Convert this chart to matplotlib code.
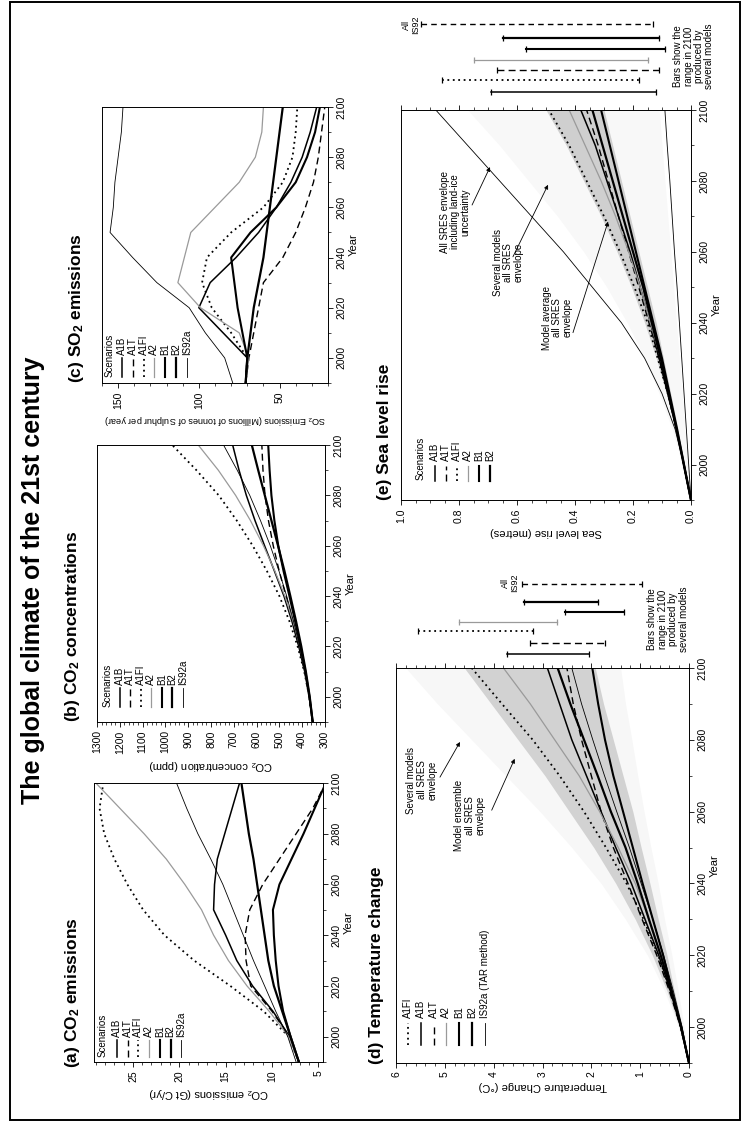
import matplotlib
matplotlib.use("Agg")
import matplotlib.pyplot as plt
from matplotlib.patches import Rectangle
from matplotlib.ticker import MultipleLocator, FormatStrFormatter

plt.rcParams["font.family"] = ["Liberation Sans", "DejaVu Sans"]
plt.rcParams["mathtext.fontset"] = "custom"
plt.rcParams["mathtext.rm"] = "Liberation Sans"
plt.rcParams["mathtext.bf"] = "Liberation Sans:bold"
plt.rcParams["mathtext.default"] = "regular"

W, H = 743, 1123

years = [1990, 2000, 2010, 2020, 2030, 2040, 2050, 2060, 2070, 2080, 2090, 2100]

# (a) CO2 emissions, Gt C/yr
emis_a1b = [7.1, 8.1, 9.9, 12.1, 13.8, 15.0, 16.3, 16.2, 15.9, 15.1, 14.3, 13.5]
emis_a1t = [7.1, 8.1, 10.0, 12.3, 12.8, 12.9, 12.4, 11.0, 9.2, 7.4, 5.6, 4.2]
emis_a1fi = [7.1, 8.2, 10.9, 14.5, 18.4, 21.6, 23.9, 25.6, 27.0, 28.1, 28.6, 28.2]
emis_a2 = [7.1, 8.2, 10.3, 12.7, 14.7, 16.3, 17.6, 19.4, 21.4, 23.8, 26.4, 29.0]
emis_b1 = [7.1, 8.0, 8.8, 9.3, 9.6, 9.8, 9.9, 9.2, 7.9, 6.6, 5.4, 4.2]
emis_b2 = [7.1, 8.0, 8.9, 9.8, 10.4, 10.8, 11.2, 11.6, 12.0, 12.5, 12.9, 13.3]
emis_is92a = [7.4, 8.3, 9.6, 10.8, 12.0, 13.1, 14.2, 15.3, 16.6, 18.0, 19.2, 20.3]

# (b) CO2 concentrations, ppm
conc_a1b = [354, 369, 389, 415, 445, 480, 522, 565, 607, 645, 677, 705]
conc_a1t = [354, 369, 389, 413, 441, 471, 501, 527, 548, 563, 572, 577]
conc_a1fi = [354, 369, 391, 420, 456, 500, 555, 617, 687, 766, 864, 970]
conc_a2 = [354, 368, 387, 410, 440, 476, 520, 570, 627, 692, 768, 856]
conc_b1 = [354, 368, 386, 407, 431, 456, 482, 505, 522, 535, 543, 549]
conc_b2 = [354, 367, 384, 404, 427, 452, 478, 506, 535, 564, 593, 621]
conc_is92a = [354, 369, 388, 411, 438, 468, 502, 540, 583, 630, 685, 745]

# (c) SO2 emissions, Mt S/yr
so2_a1b = [71, 70, 85, 100, 93, 77, 63, 52, 43, 36, 31, 27]
so2_a1t = [71, 69, 66, 63, 60, 48, 40, 34, 29, 26, 24, 22]
so2_a1fi = [71, 70, 80, 92, 98, 95, 80, 60, 48, 42, 40, 39]
so2_a2 = [71, 69, 75, 99, 113, 109, 105, 90, 75, 65, 61, 60]
so2_b1 = [71, 70, 73, 76, 78, 80, 68, 52, 40, 33, 28, 25]
so2_b2 = [71, 70, 68, 66, 63, 60, 58, 56, 54, 52, 50, 48]
so2_is92a = [79, 84, 96, 106, 126, 141, 155, 153, 152, 150, 148, 147]

# (d) temperature change, deg C
temp_a1fi = [0, 0.17, 0.38, 0.63, 0.93, 1.28, 1.70, 2.15, 2.65, 3.20, 3.83, 4.45]
temp_a1b = [0, 0.17, 0.38, 0.62, 0.90, 1.18, 1.50, 1.80, 2.10, 2.40, 2.65, 2.90]
temp_a1t = [0, 0.17, 0.40, 0.66, 0.96, 1.25, 1.55, 1.80, 2.00, 2.20, 2.37, 2.50]
temp_a2 = [0, 0.16, 0.35, 0.56, 0.82, 1.10, 1.45, 1.83, 2.25, 2.75, 3.25, 3.80]
temp_b1 = [0, 0.16, 0.35, 0.53, 0.74, 0.95, 1.15, 1.35, 1.55, 1.72, 1.86, 1.98]
temp_b2 = [0, 0.16, 0.36, 0.58, 0.82, 1.05, 1.30, 1.60, 1.87, 2.15, 2.43, 2.69]
temp_is92a = [0, 0.14, 0.32, 0.52, 0.74, 0.98, 1.22, 1.48, 1.73, 1.97, 2.20, 2.40]
temp_wide_hi = [0, 0.22, 0.50, 0.85, 1.30, 1.80, 2.40, 3.05, 3.75, 4.45, 5.15, 5.80]
temp_wide_lo = [0, 0.10, 0.22, 0.35, 0.50, 0.63, 0.78, 0.92, 1.05, 1.17, 1.30, 1.40]
temp_ens_hi = [0, 0.20, 0.45, 0.75, 1.10, 1.50, 1.95, 2.45, 2.95, 3.50, 4.05, 4.60]
temp_ens_lo = [0, 0.14, 0.30, 0.45, 0.63, 0.80, 0.98, 1.15, 1.35, 1.55, 1.75, 1.92]
# 2100 ranges over several models (high, low)
temp_bar_names = ["A1B", "A1T", "A1FI", "A2", "B1", "B2", "IS92"]
temp_bar_hi = [3.73, 3.26, 5.55, 4.71, 2.54, 3.38, 3.42]
temp_bar_lo = [2.05, 1.72, 3.20, 2.71, 1.33, 1.86, 0.96]

# (e) sea level rise, metres
sea_a1b = [0, 0.025, 0.050, 0.080, 0.110, 0.140, 0.175, 0.210, 0.250, 0.290, 0.330, 0.380]
sea_a1t = [0, 0.025, 0.050, 0.080, 0.110, 0.145, 0.180, 0.215, 0.250, 0.285, 0.320, 0.360]
sea_a1fi = [0, 0.025, 0.050, 0.080, 0.115, 0.150, 0.195, 0.245, 0.300, 0.360, 0.420, 0.490]
sea_a2 = [0, 0.024, 0.048, 0.075, 0.105, 0.140, 0.175, 0.215, 0.260, 0.310, 0.365, 0.420]
sea_b1 = [0, 0.024, 0.048, 0.074, 0.100, 0.130, 0.160, 0.190, 0.220, 0.250, 0.280, 0.310]
sea_b2 = [0, 0.025, 0.050, 0.077, 0.105, 0.135, 0.165, 0.200, 0.235, 0.270, 0.305, 0.340]
sea_ice_hi = [0, 0.025, 0.055, 0.100, 0.160, 0.240, 0.340, 0.440, 0.550, 0.660, 0.770, 0.880]
sea_ice_lo = [0, 0.008, 0.016, 0.024, 0.032, 0.040, 0.048, 0.057, 0.065, 0.073, 0.082, 0.090]
sea_wide_hi = [0, 0.030, 0.065, 0.110, 0.160, 0.220, 0.290, 0.370, 0.460, 0.560, 0.660, 0.770]
sea_wide_lo = [0, 0.010, 0.020, 0.030, 0.040, 0.050, 0.060, 0.070, 0.080, 0.090, 0.100, 0.110]
sea_avg_hi = [0, 0.027, 0.055, 0.085, 0.120, 0.160, 0.205, 0.255, 0.310, 0.370, 0.430, 0.500]
sea_avg_lo = [0, 0.022, 0.045, 0.070, 0.095, 0.120, 0.150, 0.180, 0.210, 0.240, 0.270, 0.300]
sea_bar_names = ["A1B", "A1FI", "A1T", "A2", "B1", "B2", "IS92"]
sea_bar_hi = [0.69, 0.86, 0.67, 0.75, 0.57, 0.65, 0.93]
sea_bar_lo = [0.12, 0.18, 0.11, 0.15, 0.09, 0.11, 0.13]

STYLE = {
    "A1B": dict(color="black", lw=1.1, ls="-"),
    "A1T": dict(color="black", lw=1.0, ls=(0, (5, 3))),
    "A1FI": dict(color="black", lw=1.3, ls=(0, (1, 2))),
    "A2": dict(color="#9a9a9a", lw=0.9, ls="-"),
    "B1": dict(color="black", lw=1.5, ls="-"),
    "B2": dict(color="black", lw=1.6, ls="-"),
    "IS92a": dict(color="black", lw=0.6, ls="-"),
    "IS92": dict(color="black", lw=1.0, ls=(0, (4, 3))),
}
SCEN = ["A1B", "A1T", "A1FI", "A2", "B1", "B2", "IS92a"]
LEGEND_FS = 7
TITLE_FS = 12.5


def box(x0, y0, x1, y1):
    return [x0 / W, 1 - y1 / H, (x1 - x0) / W, (y1 - y0) / H]


def fig_xy(x, y):
    return x / W, 1 - y / H


def setup(ax, xlim, major, minor, xlabel, label_fs=8.0, mirror=False, fmt=None):
    ax.set_ylim(1990, 2100)
    ax.set_xlim(*xlim)
    ax.yaxis.tick_right()
    ax.yaxis.set_label_position("right")
    ax.yaxis.set_major_locator(MultipleLocator(20))
    ax.yaxis.set_minor_locator(MultipleLocator(10))
    ax.xaxis.set_major_locator(MultipleLocator(major))
    ax.xaxis.set_minor_locator(MultipleLocator(minor))
    if fmt:
        ax.xaxis.set_major_formatter(fmt)
    ax.tick_params(axis="both", which="major", length=3.5, width=0.6, labelsize=7.5, pad=2.5)
    ax.tick_params(axis="both", which="minor", length=2, width=0.5)
    ax.tick_params(axis="x", labelrotation=90, top=mirror, which="both")
    ax.tick_params(axis="y", labelrotation=90)
    for lbl in ax.get_yticklabels():
        lbl.set_va("center")
    ax.set_ylabel("Year", fontsize=8, labelpad=2)
    ax.set_xlabel(xlabel, fontsize=label_fs, rotation=180, labelpad=3)
    for s in ax.spines.values():
        s.set_linewidth(0.7)


def rot_legend(ax, names, labels, x0, dx, y0, y1, title=None, tx=None):
    for i, (name, lab) in enumerate(zip(names, labels)):
        x = x0 + i * dx
        ax.plot([x, x], [y0, y1], transform=ax.transAxes, **STYLE[name])
        ax.text(x, y1 + 0.012, lab, rotation=90, transform=ax.transAxes,
                ha="center", va="bottom", fontsize=LEGEND_FS)
    if title:
        ax.text(tx, y0, title, rotation=90, transform=ax.transAxes,
                ha="center", va="bottom", fontsize=LEGEND_FS)


def panel_title(x, y, s):
    fig.text(*fig_xy(x, y), s, rotation=90, ha="center", va="bottom",
             fontsize=TITLE_FS, fontweight="bold")


def range_bars(ax, names, hi, lo, offsets):
    for name, h, l, off in zip(names, hi, lo, offsets):
        st = dict(STYLE[name])
        yb = 2100 + off
        ax.plot([h, l], [yb, yb], clip_on=False, **st)
        ax.plot([h, l], [yb, yb], ls="none", marker="|", ms=4.5, mew=0.9,
                color=st["color"], clip_on=False)


fig = plt.figure(figsize=(W / 100, H / 100), dpi=100)

fig.add_artist(Rectangle((10 / W, 1 - 1120 / H), 730 / W, 1118 / H,
                         transform=fig.transFigure, fill=False, lw=1.4, color="black"))
fig.text(*fig_xy(33, 580), "The global climate of the 21st century", rotation=90,
         ha="center", va="center", fontsize=18, fontweight="bold")

# (a) CO2 emissions
emis = dict(zip(SCEN, [emis_a1b, emis_a1t, emis_a1fi, emis_a2, emis_b1, emis_b2, emis_is92a]))
ax = fig.add_axes(box(94, 783, 323, 1062))
for name in SCEN:
    ax.plot(emis[name], years, **STYLE[name])
setup(ax, (29.2, 4.5), 5, 1, "CO$_2$ emissions (Gt C/yr)")
rot_legend(ax, SCEN, SCEN, 0.10, 0.047, 0.018, 0.079, "Scenarios", 0.039)
panel_title(72, 1068, "(a) CO$_\\mathbf{2}$ emissions")

# (b) CO2 concentrations
conc = dict(zip(SCEN, [conc_a1b, conc_a1t, conc_a1fi, conc_a2, conc_b1, conc_b2, conc_is92a]))
ax = fig.add_axes(box(97, 445, 325, 722))
for name in SCEN:
    ax.plot(conc[name], years, **STYLE[name])
setup(ax, (1300, 300), 100, 20, "CO$_2$ concentration (ppm)")
rot_legend(ax, SCEN, SCEN, 0.10, 0.046, 0.054, 0.123, "Scenarios", 0.048)
panel_title(73, 722, "(b) CO$_\\mathbf{2}$ concentrations")

# (c) SO2 emissions
so2 = dict(zip(SCEN, [so2_a1b, so2_a1t, so2_a1fi, so2_a2, so2_b1, so2_b2, so2_is92a]))
ax = fig.add_axes(box(102, 107, 328, 383))
for name in SCEN:
    ax.plot(so2[name], years, **STYLE[name])
setup(ax, (160, 20), 50, 10,
      "SO$_2$ Emissions (Millions of tonnes of Sulphur per year)", label_fs=6.6)
rot_legend(ax, SCEN, SCEN, 0.088, 0.048, 0.022, 0.09, "Scenarios", 0.035)
panel_title(76, 383, "(c) SO$_\\mathbf{2}$ emissions")

# (d) temperature change
temp = dict(zip(SCEN, [temp_a1b, temp_a1t, temp_a1fi, temp_a2, temp_b1, temp_b2, temp_is92a]))
ax = fig.add_axes(box(396, 668, 689, 1063))
ax.fill_betweenx(years, temp_wide_lo, temp_wide_hi, color="#f7f7f7", lw=0)
ax.fill_betweenx(years, temp_ens_lo, temp_ens_hi, color="#d2d2d2", lw=0)
for name in SCEN:
    ax.plot(temp[name], years, **STYLE[name])
setup(ax, (6, 0), 1, 0.2, "Temperature Change (\u00b0C)", mirror=True)
d_order = ["A1FI", "A1B", "A1T", "A2", "B1", "B2", "IS92a"]
d_labels = ["A1FI", "A1B", "A1T", "A2", "B1", "B2", "IS92a (TAR method)"]
rot_legend(ax, d_order, d_labels, 0.041, 0.0437, 0.046, 0.101)
range_bars(ax, temp_bar_names, temp_bar_hi, temp_bar_lo,
           [3.9, 7.0, 10.3, 12.8, 15.6, 18.4, 23.4])
ax.text(3.67, 2123.7, "All\nIS92", rotation=90, ha="center", va="center",
        fontsize=6.5, linespacing=1.0, clip_on=False)
ax.text(0.43, 2113.6, "Bars show the\nrange in 2100\nproduced by\nseveral models",
        rotation=90, ha="center", va="center", fontsize=7, linespacing=1.05, clip_on=False)
arrow = dict(arrowstyle="-|>", lw=0.6, color="black", mutation_scale=6, shrinkA=0, shrinkB=0)
ax.text(5.47, 2068.8, "Several models\nall SRES\nenvelope", rotation=90,
        ha="center", va="center", fontsize=7, linespacing=1.05)
ax.annotate("", xy=(4.69, 2079.4), xytext=(5.1, 2069.6), arrowprops=arrow)
ax.text(4.49, 2059.0, "Model ensemble\nall SRES\nenvelope", rotation=90,
        ha="center", va="center", fontsize=7, linespacing=1.05)
ax.annotate("", xy=(3.57, 2074.7), xytext=(4.04, 2060.4), arrowprops=arrow)
panel_title(377, 1064, "(d) Temperature change")

# (e) sea level rise
sea_names = ["A1B", "A1T", "A1FI", "A2", "B1", "B2"]
sea = dict(zip(sea_names, [sea_a1b, sea_a1t, sea_a1fi, sea_a2, sea_b1, sea_b2]))
ax = fig.add_axes(box(401, 110, 691, 500))
ax.fill_betweenx(years, sea_wide_lo, sea_wide_hi, color="#f8f8f8", lw=0)
ax.fill_betweenx(years, sea_avg_lo, sea_avg_hi, color="#cfcfcf", lw=0)
ax.plot(sea_ice_hi, years, color="black", lw=0.6)
ax.plot(sea_ice_lo, years, color="black", lw=0.6)
for name in sea_names:
    ax.plot(sea[name], years, **STYLE[name])
setup(ax, (1.0, 0.0), 0.2, 0.05, "Sea level rise (metres)", mirror=True,
      fmt=FormatStrFormatter("%.1f"))
rot_legend(ax, sea_names, sea_names, 0.117, 0.038, 0.05, 0.088, "Scenarios", 0.066)
range_bars(ax, sea_bar_names, sea_bar_hi, sea_bar_lo,
           [5.1, 8.5, 11.3, 14.1, 17.2, 20.3, 24.2])
ax.text(0.966, 2124.0, "All\nIS92", rotation=90, ha="center", va="center",
        fontsize=6.5, linespacing=1.0, clip_on=False)
ax.text(-0.01, 2115.2, "Bars show the\nrange in 2100\nproduced by\nseveral models",
        rotation=90, ha="center", va="center", fontsize=7, linespacing=1.05, clip_on=False)
ax.text(0.814, 2071.3, "All SRES envelope\nincluding land-ice\nuncertainty", rotation=90,
        ha="center", va="center", fontsize=7, linespacing=1.05)
ax.annotate("", xy=(0.693, 2083.9), xytext=(0.755, 2073.2), arrowprops=arrow)
ax.text(0.631, 2056.9, "Several models\nall SRES\nenvelope", rotation=90,
        ha="center", va="center", fontsize=7, linespacing=1.05)
ax.annotate("", xy=(0.493, 2078.9), xytext=(0.614, 2058.6), arrowprops=arrow)
ax.text(0.462, 2041.4, "Model average\nall SRES\nenvelope", rotation=90,
        ha="center", va="center", fontsize=7, linespacing=1.05)
ax.annotate("", xy=(0.286, 2068.5), xytext=(0.407, 2037.2), arrowprops=arrow)
panel_title(385, 500, "(e) Sea level rise")

fig.savefig("out.png", dpi=100)
